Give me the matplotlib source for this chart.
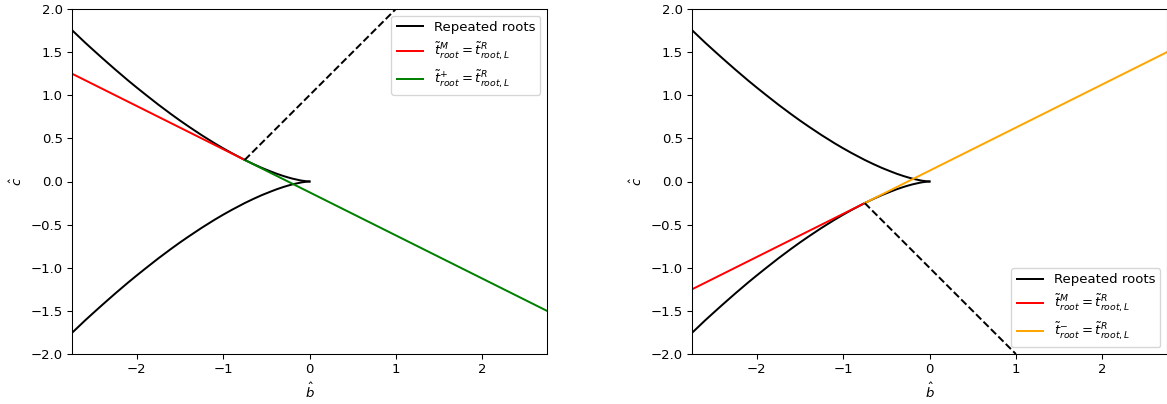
import numpy as np
import matplotlib
matplotlib.use("Agg")
import matplotlib.pyplot as plt

# Repeated-roots curve (upper branch; lower branch is its mirror)
b_rep = [-2.75, -2.6, -2.5, -2.4, -2.25, -2.1, -2.0, -1.9, -1.75, -1.6, -1.5, -1.4,
         -1.25, -1.1, -1.0, -0.9, -0.75, -0.65, -0.55, -0.45, -0.38, -0.3, -0.25,
         -0.2, -0.16, -0.12, -0.09, -0.06, -0.04, -0.02, 0.0]
c_rep = [1.755, 1.612, 1.521, 1.431, 1.299, 1.171, 1.089, 1.009, 0.891, 0.779, 0.707,
         0.638, 0.538, 0.444, 0.385, 0.329, 0.250, 0.202, 0.157, 0.117, 0.090, 0.063,
         0.048, 0.034, 0.025, 0.016, 0.010, 0.006, 0.003, 0.001, 0.0]

# Left panel lines
b_red_L = [-2.75, -0.75]
c_red_L = [1.25, 0.25]
b_green = [-0.75, 2.75]
c_green = [0.25, -1.5]
b_dash_L = [-0.75, 1.0]
c_dash_L = [0.25, 2.0]

# Right panel lines
b_red_R = [-2.75, -0.75]
c_red_R = [-1.25, -0.25]
b_orange = [-0.75, 2.75]
c_orange = [-0.25, 1.5]
b_dash_R = [-0.75, 1.0]
c_dash_R = [-0.25, -2.0]

lab_rep = "Repeated roots"
lab_M = r"$\tilde{t}^{M}_{root} = \tilde{t}^{R}_{root,L}$"
lab_plus = r"$\tilde{t}^{+}_{root} = \tilde{t}^{R}_{root,L}$"
lab_minus = r"$\tilde{t}^{-}_{root} = \tilde{t}^{R}_{root,L}$"

DPI = 95
W, H = 1167, 404
fig = plt.figure(figsize=(W / DPI, H / DPI), dpi=DPI)
ax1 = fig.add_axes([72 / W, 1 - 354 / H, 475 / W, 345 / H])
ax2 = fig.add_axes([692 / W, 1 - 354 / H, 475 / W, 345 / H])

b_arr = np.array(b_rep)
c_arr = np.array(c_rep)

# Left
ax1.plot(b_arr, c_arr, color="black", label=lab_rep)
ax1.plot(b_arr, -c_arr, color="black")
ax1.plot(b_red_L, c_red_L, color="red", label=lab_M)
ax1.plot(b_green, c_green, color="green", label=lab_plus)
ax1.plot(b_dash_L, c_dash_L, color="black", linestyle="--")
ax1.legend(loc="upper right")

# Right
ax2.plot(b_arr, c_arr, color="black", label=lab_rep)
ax2.plot(b_arr, -c_arr, color="black")
ax2.plot(b_red_R, c_red_R, color="red", label=lab_M)
ax2.plot(b_orange, c_orange, color="orange", label=lab_minus)
ax2.plot(b_dash_R, c_dash_R, color="black", linestyle="--")
ax2.legend(loc="lower right")

for ax in (ax1, ax2):
    ax.set_xlim(-2.75, 2.75)
    ax.set_ylim(-2, 2)
    ax.set_xlabel(r"$\hat{b}$")
    ax.set_ylabel(r"$\hat{c}$")

fig.savefig("out.png", dpi=DPI)
